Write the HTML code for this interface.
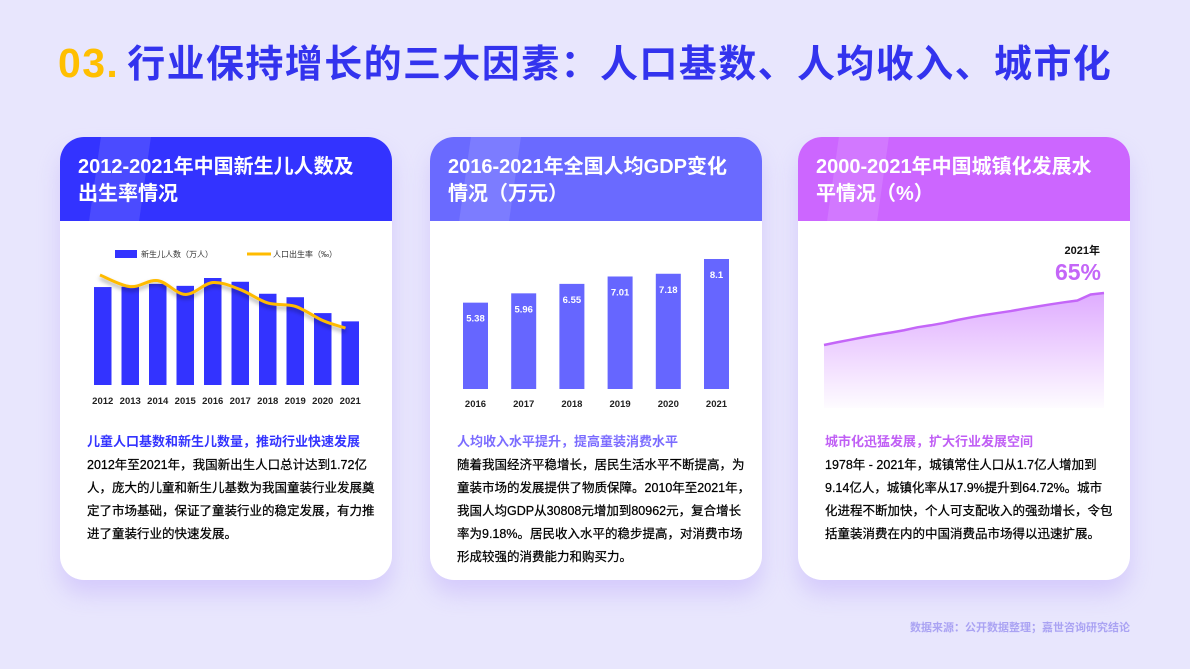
<!DOCTYPE html>
<html><head><meta charset="utf-8">
<style>
*{margin:0;padding:0;box-sizing:border-box}
body{width:1190px;height:669px;background:#e8e6fd;font-family:"Liberation Sans","Noto Sans CJK SC",sans-serif;position:relative;overflow:hidden}
.title{position:absolute;left:58px;top:33px;font-size:38px;font-weight:bold;color:#3333ee;white-space:nowrap;letter-spacing:1.4px}
.title .no{color:#ffbf00;margin-right:8px;font-size:41px}
.card{position:absolute;top:137px;width:332px;height:443px;background:#fff;border-radius:24px;overflow:hidden;box-shadow:0 14px 22px rgba(190,170,250,0.45)}
.hdr{position:absolute;left:0;top:0;width:100%;height:84px;padding:17px 0 0 18px;color:#fff;font-size:20px;font-weight:bold;line-height:27px;white-space:nowrap}
.hdr .gl{position:absolute;left:35px;top:0;width:50px;height:84px;background:rgba(255,255,255,0.12);transform:skewX(-8deg)}
.txt{position:absolute;left:27px;top:293px;font-size:12.5px;color:#000;line-height:23px;white-space:nowrap;-webkit-text-stroke:0.25px #000}
.txt b{display:block;font-size:13px;margin-bottom:1px;-webkit-text-stroke:0}
svg{position:absolute;left:0;top:0}
.foot{position:absolute;right:60px;top:619px;font-size:11px;color:#aaa3f3;font-weight:bold}
</style></head><body>
<div class="title"><span class="no">03.</span>行业保持增长的三大因素：人口基数、人均收入、城市化</div>

<div class="card" style="left:60px">
 <div class="hdr" style="background:#3333ff"><div class="gl"></div>2012-2021年中国新生儿人数及<br>出生率情况</div>
 <div class="txt"><b style="color:#3333ff">儿童人口基数和新生儿数量，推动行业快速发展</b>2012年至2021年，我国新出生人口总计达到1.72亿<br>人，庞大的儿童和新生儿基数为我国童装行业发展奠<br>定了市场基础，保证了童装行业的稳定发展，有力推<br>进了童装行业的快速发展。</div>
</div>
<div class="card" style="left:430px">
 <div class="hdr" style="background:#6a6aff"><div class="gl"></div>2016-2021年全国人均GDP变化<br>情况（万元）</div>
 <div class="txt"><b style="color:#7b6cff">人均收入水平提升，提高童装消费水平</b>随着我国经济平稳增长，居民生活水平不断提高，为<br>童装市场的发展提供了物质保障。2010年至2021年，<br>我国人均GDP从30808元增加到80962元，复合增长<br>率为9.18%。居民收入水平的稳步提高，对消费市场<br>形成较强的消费能力和购买力。</div>
</div>
<div class="card" style="left:798px">
 <div class="hdr" style="background:#cc66ff"><div class="gl"></div>2000-2021年中国城镇化发展水<br>平情况（%）</div>
 <div class="txt"><b style="color:#c05ff5">城市化迅猛发展，扩大行业发展空间</b>1978年 - 2021年，城镇常住人口从1.7亿人增加到<br>9.14亿人，城镇化率从17.9%提升到64.72%。城市<br>化进程不断加快，个人可支配收入的强劲增长，令包<br>括童装消费在内的中国消费品市场得以迅速扩展。</div>
</div>
<div class="foot">数据来源：公开数据整理；嘉世咨询研究结论</div>

<svg id="chart" width="1190" height="669">
 <defs>
  <linearGradient id="ag" x1="0" y1="0" x2="0" y2="1"><stop offset="0" stop-color="#d490ff" stop-opacity="0.75"/><stop offset="1" stop-color="#d490ff" stop-opacity="0.03"/></linearGradient>
  <filter id="sh" x="-10%" y="-50%" width="120%" height="200%"><feDropShadow dx="0" dy="3" stdDeviation="2" flood-color="#000" flood-opacity="0.35"/></filter>
 </defs>
</svg>
<script>
const birthYears=["2012","2013","2014","2015","2016","2017","2018","2019","2020","2021"];
const births=[1635,1640,1687,1655,1786,1723,1523,1465,1200,1062];
const birthRate=[14.57,13.03,13.83,11.99,13.57,12.64,10.86,10.41,8.52,7.52];
const gdpYears=["2016","2017","2018","2019","2020","2021"];
const gdp=[5.38,5.96,6.55,7.01,7.18,8.1];
const gdpLabels=["5.38","5.96","6.55","7.01","7.18","8.1"];
const urbanYears=[2000,2001,2002,2003,2004,2005,2006,2007,2008,2009,2010,2011,2012,2013,2014,2015,2016,2017,2018,2019,2020,2021];
const urban=[36.2,37.7,39.1,40.5,41.8,43.0,44.3,45.9,47.0,48.3,49.9,51.3,52.6,53.7,54.8,56.1,57.3,58.5,59.6,60.6,63.9,64.7];

const svg=document.getElementById('chart');
const NS='http://www.w3.org/2000/svg';
function mk(t,a,txt){const e=document.createElementNS(NS,t);for(const k in a)e.setAttribute(k,a[k]);if(txt!=null)e.textContent=txt;svg.appendChild(e);return e;}

// Chart 1
const x1=i=>94+i*27.5, bw1=17.5, base1=385;
const y1=v=>base1-v*(107/1786);
const yr=r=>384.6-r*7.52;
let e=mk('rect',{x:115,y:250,width:22,height:8,fill:'#3333ff'});

e=mk('text',{x:141,y:257,'font-size':8,fill:'#333'},'新生儿人数（万人）');

e=mk('line',{x1:247,y1:254,x2:271,y2:254,stroke:'#ffbb00','stroke-width':3});

e=mk('text',{x:273,y:257,'font-size':8,fill:'#333'},'人口出生率（‰）');

births.forEach((v,i)=>{
 const r=mk('rect',{x:x1(i),y:y1(v),width:bw1,height:base1-y1(v),fill:'#3333ff'});
 
 
 const t=mk('text',{x:x1(i)+bw1/2,y:404,'font-size':9.5,'font-weight':'bold','text-anchor':'middle',fill:'#222'},birthYears[i]);
 
 
});
function smooth(pts){let d='M'+pts[0][0]+','+pts[0][1];for(let i=0;i<pts.length-1;i++){const p0=pts[i-1]||pts[i],p1=pts[i],p2=pts[i+1],p3=pts[i+2]||p2;const c1=[p1[0]+(p2[0]-p0[0])/6,p1[1]+(p2[1]-p0[1])/6],c2=[p2[0]-(p3[0]-p1[0])/6,p2[1]-(p3[1]-p1[1])/6];d+=` C${c1[0]},${c1[1]} ${c2[0]},${c2[1]} ${p2[0]},${p2[1]}`;}return d;}
const rp=birthRate.map((r,i)=>[x1(i)+bw1/2,yr(r)]);
rp[0][0]=x1(0)+6;rp[rp.length-1][0]=x1(9)+4;
e=mk('path',{d:smooth(rp),fill:'none',stroke:'#ffbb00','stroke-width':3,filter:'url(#sh)'});


// Chart 2
const x2=i=>463+i*48.2, bw2=25, base2=389;
const y2=v=>base2-v*16.05;
gdp.forEach((v,i)=>{
 const r=mk('rect',{x:x2(i),y:y2(v),width:bw2,height:base2-y2(v),fill:'#6666ff'});
 
 
 const l=mk('text',{x:x2(i)+bw2/2,y:y2(v)+19,'font-size':9.5,'font-weight':'bold','text-anchor':'middle',fill:'#fff'},gdpLabels[i]);
 
 
 const t=mk('text',{x:x2(i)+bw2/2,y:407,'font-size':9.5,'font-weight':'bold','text-anchor':'middle',fill:'#222'},gdpYears[i]);
 
 
});

// Chart 3
const x3=i=>824+i*(280/(urban.length-1));
const y3=v=>345-(v-36.2)*(52/(64.7-36.2));
const up=urban.map((v,i)=>[x3(i),y3(v)]);
const lineD='M'+up.map(p=>p.join(',')).join(' L');
e=mk('path',{d:lineD+` L${x3(urban.length-1)},408 L${x3(0)},408 Z`,fill:'url(#ag)'});

e=mk('path',{d:lineD,fill:'none',stroke:'#c466f8','stroke-width':2.5});

e=mk('text',{x:1100,y:254,'font-size':11,'font-weight':'bold','text-anchor':'end',fill:'#111'},'2021年');

e=mk('text',{x:1101,y:280,'font-size':23,'font-weight':'bold','text-anchor':'end',fill:'#c466f8'},'65%');

</script>
</body></html>
